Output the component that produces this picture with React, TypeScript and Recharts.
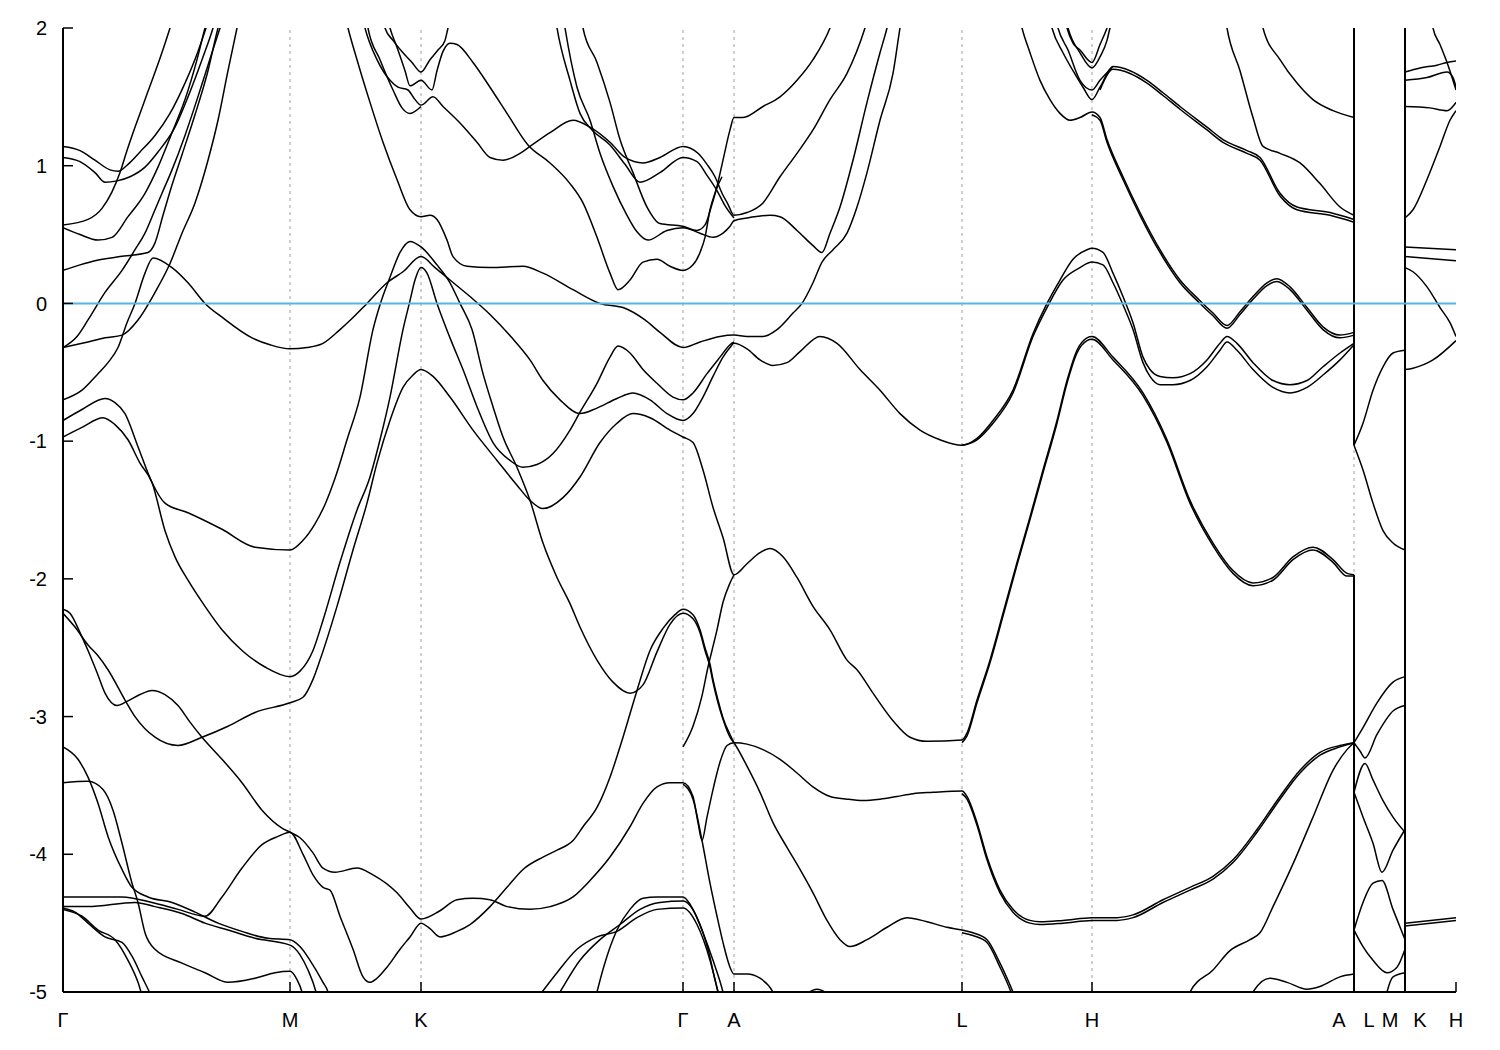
import React from 'react';
import { LineChart, Line, XAxis, YAxis, ReferenceLine } from 'recharts';

type Pt = [number, number];

// high-symmetry points along the k-path
const kTicks = [0, 2.27, 3.58, 6.2, 6.71, 8.99, 10.29, 12.91, 13.42, 13.93];
const kLabels = ['Γ', 'M', 'K', 'Γ', 'A', 'L', 'H', 'A L', 'M K', 'H'];
const energyTicks = [-5, -4, -3, -2, -1, 0, 1, 2];

// Γ–M, bands that leave the window at the top
const bandsGammaMUpper: Pt[][] = [
  [[0, 1.14], [0.17, 1.11], [0.32, 1.04], [0.47, 0.97], [0.55, 0.96], [0.65, 1.01], [0.77, 1.1], [0.92, 1.22], [1.07, 1.38], [1.22, 1.6], [1.35, 1.83], [1.43, 2.0], [1.49, 2.13]],
  [[0, 1.06], [0.17, 1.03], [0.32, 0.95], [0.42, 0.88], [0.54, 0.89], [0.67, 0.92], [0.82, 0.99], [0.95, 1.1], [1.12, 1.28], [1.25, 1.5], [1.39, 1.77], [1.5, 2.0], [1.55, 2.13]],
  [[0, 0.57], [0.25, 0.61], [0.39, 0.69], [0.49, 0.81], [0.57, 0.95], [0.64, 1.11], [0.74, 1.32], [0.85, 1.54], [0.97, 1.78], [1.07, 2.0], [1.12, 2.12]],
  [[0, 0.55], [0.17, 0.5], [0.35, 0.46], [0.49, 0.48], [0.65, 0.63], [0.82, 0.8], [0.95, 0.99], [1.09, 1.24], [1.22, 1.48], [1.34, 1.77], [1.42, 2.0], [1.47, 2.13]],
  [[0, 0.24], [0.17, 0.28], [0.32, 0.31], [0.57, 0.34], [0.85, 0.37], [0.92, 0.44], [1.0, 0.64], [1.09, 0.86], [1.19, 1.08], [1.32, 1.37], [1.45, 1.69], [1.55, 2.0], [1.6, 2.13]],
  [[0, -0.32], [0.14, -0.24], [0.25, -0.12], [0.42, 0.08], [0.59, 0.24], [0.72, 0.39], [0.82, 0.51], [0.92, 0.68], [0.99, 0.8], [1.09, 0.97], [1.22, 1.22], [1.34, 1.48], [1.45, 1.73], [1.57, 2.0], [1.63, 2.13]],
  [[0, -0.32], [0.25, -0.28], [0.42, -0.25], [0.59, -0.23], [0.75, -0.12], [0.92, 0.08], [1.07, 0.29], [1.19, 0.51], [1.32, 0.73], [1.45, 1.04], [1.55, 1.33], [1.65, 1.69], [1.74, 2.0], [1.78, 2.13]],
];

// Γ–M lower bands ending near the bottom edge
const bandsGammaMLower: Pt[][] = [
  [[0, -3.22], [0.15, -3.31], [0.25, -3.44], [0.35, -3.63], [0.45, -3.87], [0.59, -4.11], [0.69, -4.24], [0.85, -4.31], [1.09, -4.35], [1.32, -4.42], [1.55, -4.5], [1.79, -4.56], [2.05, -4.61], [2.27, -4.62], [2.37, -4.67], [2.47, -4.77], [2.6, -4.93], [2.65, -5.0], [2.67, -5.06]],
  [[0, -3.48], [0.25, -3.47], [0.4, -3.53], [0.5, -3.68], [0.59, -3.92], [0.69, -4.21], [0.75, -4.35], [0.82, -4.57], [0.92, -4.69], [1.19, -4.79], [1.42, -4.86], [1.65, -4.93], [1.92, -4.9], [2.12, -4.86], [2.27, -4.85], [2.34, -4.91], [2.39, -5.0], [2.41, -5.06]],
  [[0, -4.38], [0.25, -4.38], [0.72, -4.35], [0.92, -4.38], [1.19, -4.43], [1.42, -4.5], [1.65, -4.55], [1.92, -4.61], [2.27, -4.66], [2.37, -4.73], [2.45, -4.84], [2.53, -5.0], [2.55, -5.06]],
  [[0, -4.39], [0.12, -4.42], [0.25, -4.5], [0.42, -4.6], [0.59, -4.64], [0.69, -4.74], [0.79, -4.89], [0.87, -5.01], [0.9, -5.06]],
  [[0, -4.4], [0.19, -4.45], [0.35, -4.55], [0.52, -4.62], [0.65, -4.77], [0.75, -4.93], [0.79, -5.02], [0.81, -5.06]],
];

// long bands running through several path segments
const bandsLong: Pt[][] = [
  // Γ -0.70 → peak → M → K → Γ → A → L → H → A
  [[0, -0.7], [0.19, -0.63], [0.35, -0.51], [0.45, -0.43], [0.55, -0.32], [0.64, -0.14], [0.72, 0], [0.82, 0.22], [0.9, 0.33], [1.09, 0.26], [1.25, 0.15], [1.42, 0], [1.59, -0.1], [1.89, -0.25], [2.07, -0.3], [2.27, -0.33],
    [2.44, -0.32], [2.6, -0.29], [2.77, -0.19], [2.89, -0.11], [3.04, 0], [3.24, 0.15], [3.4, 0.23], [3.58, 0.34],
    [3.72, 0.26], [3.87, 0.17], [4.07, 0.05], [4.27, -0.08], [4.49, -0.25], [4.67, -0.41], [4.8, -0.56], [4.97, -0.7], [5.17, -0.8], [5.34, -0.76], [5.54, -0.69], [5.7, -0.65], [5.87, -0.7], [6.04, -0.8], [6.2, -0.85],
    [6.3, -0.8], [6.4, -0.68], [6.5, -0.53], [6.6, -0.39], [6.67, -0.32], [6.71, -0.29],
    [6.84, -0.33], [6.97, -0.41], [7.1, -0.45], [7.24, -0.43], [7.37, -0.35], [7.57, -0.24], [7.74, -0.29], [7.97, -0.48], [8.17, -0.63], [8.37, -0.8], [8.57, -0.92], [8.77, -0.99], [8.99, -1.03],
    [9.14, -0.98], [9.3, -0.85], [9.5, -0.63], [9.7, -0.22], [9.84, 0], [9.97, 0.17], [10.1, 0.32], [10.24, 0.39], [10.29, 0.4],
    [10.4, 0.37], [10.5, 0.22], [10.6, 0.05], [10.7, -0.14], [10.8, -0.39], [10.87, -0.48], [10.97, -0.53], [11.1, -0.54], [11.27, -0.51], [11.44, -0.41], [11.57, -0.29], [11.64, -0.24], [11.74, -0.29], [11.9, -0.43], [12.1, -0.56], [12.27, -0.59], [12.44, -0.56], [12.6, -0.46], [12.77, -0.36], [12.91, -0.29]],
  // Γ -0.85 → M -1.79 → K 0.41 → Γ -2.25 → A → L
  [[0, -0.85], [0.19, -0.77], [0.42, -0.69], [0.52, -0.72], [0.62, -0.8], [0.75, -1.04], [0.89, -1.3], [1.02, -1.45], [1.25, -1.52], [1.59, -1.64], [1.92, -1.77], [2.27, -1.79],
    [2.4, -1.72], [2.52, -1.6], [2.62, -1.46], [2.72, -1.27], [2.84, -0.99], [2.97, -0.68], [3.1, -0.19], [3.17, -0.01], [3.27, 0.19], [3.37, 0.37], [3.47, 0.45], [3.58, 0.41],
    [3.74, 0.28], [3.87, 0.15], [3.97, 0], [4.09, -0.19], [4.2, -0.51], [4.3, -0.75], [4.4, -0.97], [4.54, -1.19], [4.67, -1.43], [4.8, -1.74], [4.94, -1.99], [5.07, -2.18], [5.17, -2.35], [5.34, -2.59], [5.5, -2.75], [5.67, -2.83], [5.8, -2.77], [5.94, -2.53], [6.07, -2.33], [6.2, -2.25],
    [6.3, -2.29], [6.37, -2.39], [6.42, -2.52], [6.47, -2.64], [6.5, -2.75], [6.55, -2.9], [6.6, -3.02], [6.67, -3.15], [6.71, -3.19],
    [6.84, -3.36], [6.97, -3.55], [7.1, -3.77], [7.24, -3.95], [7.37, -4.11], [7.5, -4.28], [7.64, -4.48], [7.77, -4.62], [7.87, -4.67], [8.04, -4.62], [8.24, -4.53], [8.44, -4.46], [8.64, -4.49], [8.84, -4.53], [8.99, -4.55],
    [9.1, -4.57], [9.24, -4.62], [9.37, -4.79], [9.5, -5.0], [9.55, -5.09]],
  // Γ -0.97 → M -2.71 → K 0.26 → Γ -0.70 → A
  [[0, -0.97], [0.19, -0.9], [0.4, -0.83], [0.52, -0.88], [0.65, -0.99], [0.77, -1.16], [0.89, -1.3], [1.02, -1.65], [1.12, -1.84], [1.25, -2.01], [1.42, -2.2], [1.59, -2.37], [1.79, -2.52], [2.02, -2.64], [2.27, -2.71],
    [2.37, -2.67], [2.5, -2.52], [2.6, -2.3], [2.77, -1.88], [2.94, -1.5], [3.07, -1.26], [3.17, -0.99], [3.27, -0.68], [3.4, -0.19], [3.47, 0.02], [3.52, 0.17], [3.58, 0.26],
    [3.64, 0.22], [3.74, 0], [3.87, -0.25], [4.0, -0.48], [4.14, -0.75], [4.3, -1.01], [4.47, -1.14], [4.6, -1.19], [4.74, -1.17], [4.9, -1.09], [5.07, -0.92], [5.17, -0.79], [5.34, -0.58], [5.47, -0.39], [5.55, -0.31], [5.67, -0.36], [5.8, -0.48], [5.94, -0.58], [6.1, -0.68], [6.2, -0.7],
    [6.3, -0.65], [6.44, -0.51], [6.57, -0.39], [6.67, -0.3], [6.71, -0.28]],
  // Γ -2.25 → M -2.90 → K -0.48 → Γ -0.97 → A -1.97 → L -3.17 → H -0.26 → A
  [[0, -2.25], [0.12, -2.35], [0.25, -2.48], [0.34, -2.55], [0.45, -2.66], [0.62, -2.88], [0.72, -3.0], [0.92, -3.15], [1.15, -3.21], [1.39, -3.15], [1.65, -3.07], [1.92, -2.97], [2.27, -2.9],
    [2.4, -2.86], [2.5, -2.73], [2.57, -2.59], [2.74, -2.2], [2.9, -1.79], [3.04, -1.45], [3.14, -1.16], [3.27, -0.85], [3.4, -0.61], [3.5, -0.52], [3.58, -0.48],
    [3.7, -0.53], [3.87, -0.68], [4.1, -0.92], [4.34, -1.14], [4.54, -1.32], [4.67, -1.43], [4.8, -1.49], [5.0, -1.41], [5.17, -1.26], [5.37, -1.01], [5.54, -0.87], [5.7, -0.8], [5.87, -0.83], [6.07, -0.92], [6.2, -0.97],
    [6.3, -1.01], [6.4, -1.21], [6.5, -1.48], [6.6, -1.7], [6.71, -1.97],
    [6.84, -1.89], [6.97, -1.81], [7.07, -1.78], [7.2, -1.84], [7.34, -1.99], [7.5, -2.2], [7.67, -2.37], [7.84, -2.59], [7.94, -2.66], [8.1, -2.83], [8.3, -3.03], [8.47, -3.15], [8.64, -3.18], [8.99, -3.17],
    [9.04, -3.12], [9.14, -2.88], [9.27, -2.59], [9.4, -2.25], [9.54, -1.88], [9.67, -1.55], [9.8, -1.21], [9.94, -0.85], [10.04, -0.56], [10.14, -0.34], [10.24, -0.25], [10.29, -0.24],
    [10.5, -0.39], [10.8, -0.65], [11.04, -0.99], [11.27, -1.43], [11.5, -1.74], [11.7, -1.94], [11.9, -2.03], [12.1, -1.99], [12.3, -1.84], [12.5, -1.77], [12.7, -1.86], [12.84, -1.96], [12.91, -1.97]],
  // Γ -2.22 → M -3.84 → K → Γ -3.48 → A -3.19 → L -3.55 → H -4.46 → A
  [[0, -2.22], [0.07, -2.25], [0.17, -2.39], [0.25, -2.52], [0.34, -2.68], [0.42, -2.83], [0.54, -2.92], [0.64, -2.89], [0.77, -2.84], [0.89, -2.81], [1.02, -2.84], [1.15, -2.92], [1.27, -3.04], [1.39, -3.15], [1.59, -3.31], [1.79, -3.48], [1.99, -3.68], [2.19, -3.81], [2.27, -3.84],
    [2.37, -3.88], [2.5, -3.99], [2.6, -4.1], [2.72, -4.13], [2.94, -4.1], [3.1, -4.15], [3.34, -4.28], [3.47, -4.39], [3.58, -4.47],
    [3.77, -4.41], [3.94, -4.33], [4.1, -4.32], [4.27, -4.33], [4.44, -4.38], [4.67, -4.4], [4.87, -4.38], [5.1, -4.31], [5.27, -4.19], [5.47, -4.02], [5.67, -3.8], [5.8, -3.63], [5.94, -3.51], [6.07, -3.48], [6.2, -3.48],
    [6.3, -3.58], [6.35, -3.77], [6.39, -3.9], [6.44, -3.73], [6.5, -3.53], [6.57, -3.33], [6.64, -3.21], [6.71, -3.19],
    [6.84, -3.2], [7.0, -3.24], [7.17, -3.31], [7.34, -3.41], [7.5, -3.51], [7.67, -3.58], [7.84, -3.6], [8.0, -3.61], [8.17, -3.6], [8.34, -3.58], [8.5, -3.56], [8.7, -3.55], [8.99, -3.54],
    [9.04, -3.58], [9.14, -3.77], [9.24, -4.02], [9.37, -4.26], [9.5, -4.4], [9.67, -4.48], [9.77, -4.49], [10.0, -4.48], [10.29, -4.46],
    [10.54, -4.46], [10.7, -4.44], [11.0, -4.33], [11.27, -4.24], [11.5, -4.16], [11.7, -4.04], [11.94, -3.82], [12.17, -3.58], [12.37, -3.39], [12.57, -3.26], [12.77, -3.21], [12.91, -3.19]],
  // Γ -4.31 → M -3.84 → K → Γ -2.22 → A
  [[0, -4.31], [0.25, -4.31], [0.59, -4.31], [0.89, -4.35], [1.15, -4.4], [1.42, -4.45], [1.59, -4.31], [1.79, -4.1], [1.99, -3.93], [2.15, -3.87], [2.27, -3.84],
    [2.4, -4.0], [2.5, -4.15], [2.6, -4.24], [2.67, -4.26], [2.77, -4.45], [2.9, -4.69], [3.0, -4.89], [3.07, -4.93], [3.14, -4.9], [3.24, -4.82], [3.37, -4.69], [3.47, -4.6], [3.58, -4.5],
    [3.67, -4.54], [3.77, -4.6], [3.94, -4.56], [4.07, -4.51], [4.27, -4.38], [4.44, -4.24], [4.6, -4.11], [4.8, -4.02], [4.94, -3.97], [5.1, -3.9], [5.2, -3.8], [5.34, -3.66], [5.47, -3.44], [5.6, -3.15], [5.74, -2.81], [5.87, -2.52], [6.0, -2.36], [6.12, -2.26], [6.2, -2.22],
    [6.3, -2.26], [6.37, -2.37], [6.42, -2.5], [6.47, -2.62], [6.5, -2.73], [6.55, -2.88], [6.6, -3.01], [6.67, -3.13], [6.71, -3.19]],
];

// bands entering from the top between M and Γ
const bandsMKGammaUpper: Pt[][] = [
  [[2.82, 2.09], [2.85, 2.0], [2.94, 1.77], [3.07, 1.46], [3.2, 1.17], [3.34, 0.9], [3.47, 0.68], [3.58, 0.63], [3.67, 0.64], [3.74, 0.61], [3.84, 0.46], [3.9, 0.34], [4.04, 0.27], [4.27, 0.26], [4.6, 0.27], [4.8, 0.22], [5.1, 0.1], [5.37, 0], [5.6, -0.03], [5.82, -0.12], [5.97, -0.21], [6.2, -0.32],
    [6.37, -0.28], [6.57, -0.24], [6.71, -0.23], [6.84, -0.24], [7.0, -0.24], [7.14, -0.19], [7.3, -0.07], [7.39, 0], [7.5, 0.15], [7.59, 0.3], [7.7, 0.39], [7.84, 0.51], [7.94, 0.7], [8.04, 0.95], [8.17, 1.33], [8.3, 1.67], [8.37, 2.0], [8.4, 2.13]],
  [[3.2, 2.09], [3.22, 2.0], [3.3, 1.91], [3.4, 1.82], [3.49, 1.75], [3.58, 1.68], [3.67, 1.77], [3.75, 1.84], [3.82, 1.91], [3.85, 2.0], [3.88, 2.09]],
  [[3.24, 2.09], [3.27, 2.0], [3.34, 1.86], [3.42, 1.69], [3.47, 1.58], [3.58, 1.62], [3.69, 1.55], [3.74, 1.69], [3.8, 1.83], [3.87, 1.89], [3.94, 1.88], [4.1, 1.75], [4.27, 1.57], [4.44, 1.38], [4.65, 1.15], [4.87, 1.02], [5.07, 0.87], [5.2, 0.73], [5.34, 0.48], [5.47, 0.22], [5.55, 0.1], [5.67, 0.17], [5.8, 0.3], [5.94, 0.32], [6.07, 0.27], [6.2, 0.24],
    [6.3, 0.28], [6.37, 0.37], [6.42, 0.48], [6.47, 0.68], [6.54, 0.85], [6.6, 1.04], [6.67, 1.26], [6.71, 1.35], [6.8, 1.35], [7.0, 1.43], [7.17, 1.5], [7.34, 1.62], [7.5, 1.77], [7.67, 2.0], [7.73, 2.12]],
  [[2.99, 2.09], [3.02, 2.0], [3.14, 1.77], [3.27, 1.62], [3.35, 1.57], [3.45, 1.55], [3.51, 1.49], [3.58, 1.44], [3.7, 1.5], [3.8, 1.43], [3.97, 1.31], [4.14, 1.17], [4.27, 1.06], [4.4, 1.04], [4.57, 1.09], [4.67, 1.14], [4.87, 1.24], [5.1, 1.33], [5.27, 1.28], [5.47, 1.17], [5.62, 1.06], [5.8, 1.02], [5.97, 1.06], [6.2, 1.14],
    [6.35, 1.09], [6.44, 1.01], [6.52, 0.92], [6.59, 0.8], [6.65, 0.72], [6.71, 0.64], [6.84, 0.66], [7.0, 0.73], [7.17, 0.92], [7.34, 1.09], [7.5, 1.26], [7.67, 1.48], [7.84, 1.67], [8.02, 2.0], [8.07, 2.12]],
  [[3.03, 2.09], [3.05, 2.0], [3.17, 1.77], [3.3, 1.55], [3.39, 1.42], [3.47, 1.38], [3.58, 1.43]],
  [[4.92, 2.09], [4.94, 2.0], [5.07, 1.62], [5.17, 1.38], [5.29, 1.26], [5.47, 1.15], [5.62, 1.01], [5.77, 0.88], [5.97, 0.95], [6.2, 1.06], [6.34, 1.03], [6.44, 0.93], [6.54, 0.82], [6.62, 0.71], [6.71, 0.62]],
  [[5.0, 2.09], [5.02, 2.0], [5.14, 1.57], [5.27, 1.33], [5.37, 1.09], [5.5, 0.85], [5.64, 0.64], [5.74, 0.52], [5.85, 0.46], [6.04, 0.53], [6.2, 0.55], [6.37, 0.51], [6.5, 0.48], [6.6, 0.51], [6.67, 0.56], [6.71, 0.6],
    [6.84, 0.62], [7.07, 0.64], [7.17, 0.63], [7.34, 0.53], [7.5, 0.42], [7.59, 0.37], [7.67, 0.51], [7.77, 0.7], [7.9, 1.04], [8.04, 1.46], [8.17, 1.82], [8.24, 2.0], [8.27, 2.09]],
  [[5.18, 2.09], [5.2, 2.0], [5.34, 1.75], [5.47, 1.46], [5.57, 1.19], [5.7, 0.95], [5.84, 0.7], [5.97, 0.58], [6.2, 0.56], [6.34, 0.53], [6.42, 0.57], [6.49, 0.72], [6.54, 0.84], [6.59, 0.92]],
];

// lower bands around Γ and A
const bandsGammaALower: Pt[][] = [
  [[6.2, -3.22], [6.3, -3.07], [6.39, -2.85], [6.45, -2.64], [6.49, -2.52], [6.54, -2.37], [6.6, -2.17], [6.67, -2.03], [6.71, -1.97]],
  [[6.2, -3.49], [6.3, -3.6], [6.39, -3.9], [6.47, -4.21], [6.54, -4.45], [6.6, -4.64], [6.67, -4.82], [6.71, -4.87], [6.84, -4.87], [6.97, -4.9], [7.1, -5.0], [7.14, -5.06]],
  [[4.77, -5.02], [4.94, -4.86], [5.14, -4.69], [5.34, -4.6], [5.54, -4.56], [5.74, -4.46], [5.94, -4.4], [6.2, -4.39], [6.34, -4.51], [6.47, -4.77], [6.55, -5.0], [6.57, -5.06]],
  [[4.92, -5.06], [4.97, -5.0], [5.17, -4.77], [5.37, -4.62], [5.57, -4.51], [5.77, -4.4], [5.97, -4.35], [6.2, -4.34], [6.34, -4.46], [6.45, -4.69], [6.52, -4.91], [6.55, -5.0]],
  [[5.32, -5.06], [5.34, -5.0], [5.44, -4.74], [5.54, -4.55], [5.67, -4.4], [5.8, -4.32], [5.94, -4.31], [6.2, -4.31], [6.3, -4.4], [6.4, -4.57], [6.5, -4.77], [6.6, -5.0], [6.62, -5.06]],
  [[7.37, -5.06], [7.54, -4.98], [7.72, -5.06]],
];

// L–H–A bands
const bandsLHA: Pt[][] = [
  [[9.56, 2.09], [9.59, 2.0], [9.67, 1.82], [9.77, 1.62], [9.87, 1.48], [9.97, 1.38], [10.07, 1.33], [10.17, 1.35], [10.29, 1.39], [10.37, 1.35], [10.44, 1.19], [10.6, 0.92], [10.77, 0.66], [10.97, 0.39], [11.17, 0.17], [11.37, 0.02], [11.5, -0.07], [11.64, -0.16], [11.77, -0.06], [11.9, 0.05], [12.04, 0.15], [12.14, 0.18], [12.27, 0.12], [12.44, -0.03], [12.6, -0.17], [12.77, -0.23], [12.91, -0.21]],
  [[10.29, 1.37], [10.37, 1.33], [10.44, 1.17], [10.6, 0.9], [10.77, 0.64], [10.97, 0.37], [11.17, 0.15], [11.37, 0.0], [11.5, -0.09], [11.64, -0.18], [11.77, -0.08], [11.9, 0.03], [12.04, 0.13], [12.14, 0.16], [12.27, 0.1], [12.44, -0.05], [12.6, -0.19], [12.77, -0.25], [12.91, -0.23]],
  [[9.86, 2.09], [9.89, 2.0], [10.0, 1.82], [10.1, 1.69], [10.2, 1.57], [10.29, 1.48], [10.37, 1.57], [10.5, 1.72], [10.67, 1.69], [10.84, 1.62], [11.0, 1.53], [11.17, 1.43], [11.44, 1.28], [11.6, 1.19], [11.84, 1.11], [11.97, 1.06], [12.17, 0.8], [12.34, 0.7], [12.67, 0.66], [12.91, 0.61]],
  [[10.37, 1.55], [10.5, 1.7], [10.67, 1.67], [10.84, 1.6], [11.0, 1.51], [11.17, 1.41], [11.44, 1.26], [11.6, 1.17], [11.84, 1.09], [11.97, 1.04], [12.17, 0.78], [12.34, 0.68], [12.67, 0.64], [12.91, 0.59]],
  [[9.92, 2.09], [9.95, 2.0], [10.05, 1.84], [10.17, 1.62], [10.29, 1.55], [10.37, 1.62], [10.5, 1.72]],
  [[10.01, 2.09], [10.04, 2.0], [10.1, 1.89], [10.17, 1.84], [10.29, 1.75], [10.37, 1.88], [10.44, 2.0], [10.48, 2.09]],
  [[10.02, 2.09], [10.05, 2.0], [10.17, 1.82], [10.29, 1.71], [10.37, 1.79], [10.44, 1.91], [10.47, 2.0], [10.51, 2.09]],
  [[11.62, 2.09], [11.64, 2.0], [11.77, 1.69], [11.9, 1.35], [12.0, 1.14], [12.17, 1.09], [12.37, 1.02], [12.57, 0.87], [12.77, 0.7], [12.91, 0.64]],
  [[11.97, 2.09], [12.0, 2.0], [12.17, 1.77], [12.34, 1.6], [12.5, 1.48], [12.7, 1.4], [12.91, 1.35]],
  [[8.99, -1.03], [9.14, -0.99], [9.3, -0.87], [9.5, -0.65], [9.7, -0.24], [9.84, -0.03], [10.0, 0.17], [10.17, 0.26], [10.29, 0.3], [10.4, 0.28], [10.5, 0.15], [10.6, -0.01], [10.7, -0.19], [10.8, -0.43], [10.87, -0.53], [10.97, -0.59], [11.1, -0.59], [11.27, -0.56], [11.44, -0.46], [11.57, -0.34], [11.64, -0.28], [11.74, -0.34], [11.9, -0.48], [12.1, -0.61], [12.27, -0.65], [12.44, -0.61], [12.6, -0.52], [12.77, -0.41], [12.91, -0.3]],
  [[8.99, -3.19], [9.04, -3.14], [9.14, -2.9], [9.27, -2.61], [9.4, -2.27], [9.54, -1.9], [9.67, -1.57], [9.8, -1.23], [9.94, -0.87], [10.04, -0.58], [10.14, -0.36], [10.24, -0.27], [10.29, -0.26], [10.5, -0.41], [10.8, -0.67], [11.04, -1.01], [11.27, -1.45], [11.5, -1.76], [11.7, -1.96], [11.9, -2.05], [12.1, -2.01], [12.3, -1.86], [12.5, -1.79], [12.7, -1.88], [12.84, -1.98], [12.91, -1.98]],
  [[8.99, -3.56], [9.04, -3.6], [9.14, -3.79], [9.24, -4.04], [9.37, -4.28], [9.5, -4.42], [9.67, -4.5], [9.77, -4.51], [10.0, -4.5], [10.29, -4.48], [10.54, -4.48], [10.7, -4.46], [11.0, -4.35], [11.27, -4.26], [11.5, -4.18], [11.7, -4.06], [11.94, -3.84], [12.17, -3.6], [12.37, -3.41], [12.57, -3.28], [12.77, -3.22], [12.91, -3.19]],
  [[8.99, -4.57], [9.1, -4.59], [9.24, -4.64], [9.37, -4.82], [9.48, -5.0], [9.52, -5.08]],
  [[11.24, -5.06], [11.27, -5.0], [11.5, -4.84], [11.67, -4.7], [11.87, -4.62], [11.97, -4.57], [12.1, -4.38], [12.3, -4.07], [12.5, -3.73], [12.7, -3.39], [12.84, -3.24], [12.91, -3.19]],
  [[11.87, -5.06], [11.9, -5.0], [12.07, -4.9], [12.24, -4.93], [12.44, -4.98], [12.57, -4.96], [12.77, -4.89], [12.91, -4.87]],
];

// L–M segment
const bandsLM: Pt[][] = [
  [[12.91, -1.03], [13.0, -0.87], [13.1, -0.63], [13.2, -0.46], [13.3, -0.36], [13.42, -0.34]],
  [[12.91, -1.03], [13.0, -1.21], [13.1, -1.45], [13.2, -1.65], [13.3, -1.74], [13.42, -1.79]],
  [[12.91, -3.19], [13.0, -3.08], [13.14, -2.9], [13.3, -2.75], [13.42, -2.71]],
  [[12.91, -3.19], [12.97, -3.25], [13.02, -3.3], [13.14, -3.13], [13.3, -2.96], [13.42, -2.92]],
  [[12.91, -3.55], [13.02, -3.34], [13.1, -3.46], [13.2, -3.61], [13.3, -3.73], [13.42, -3.84]],
  [[12.91, -3.55], [13.0, -3.73], [13.1, -3.92], [13.19, -4.13], [13.3, -3.97], [13.42, -3.82]],
  [[12.91, -4.55], [13.0, -4.35], [13.1, -4.21], [13.19, -4.19], [13.3, -4.4], [13.42, -4.62]],
  [[12.91, -4.55], [13.0, -4.67], [13.1, -4.77], [13.24, -4.86], [13.34, -4.82], [13.42, -4.69]],
  [[13.22, -5.06], [13.24, -5.0], [13.3, -4.89], [13.42, -4.86]],
];

// K–H segment
const bandsKH: Pt[][] = [
  [[13.42, 1.68], [13.57, 1.71], [13.74, 1.73], [13.84, 1.75], [13.93, 1.76]],
  [[13.42, 1.62], [13.64, 1.64], [13.84, 1.68], [13.9, 1.64], [13.93, 1.57]],
  [[13.42, 1.43], [13.67, 1.42], [13.84, 1.4], [13.93, 1.46]],
  [[13.68, 2.09], [13.7, 2.0], [13.77, 1.88], [13.85, 1.73], [13.93, 1.55]],
  [[13.42, 0.62], [13.5, 0.68], [13.64, 0.9], [13.77, 1.14], [13.87, 1.33], [13.93, 1.4]],
  [[13.42, 0.41], [13.93, 0.39]],
  [[13.42, 0.34], [13.93, 0.31]],
  [[13.42, 0.26], [13.5, 0.23], [13.64, 0.12], [13.77, -0.03], [13.87, -0.14], [13.93, -0.24]],
  [[13.42, -0.48], [13.5, -0.47], [13.7, -0.41], [13.93, -0.27]],
  [[13.42, -4.5], [13.93, -4.46]],
  [[13.42, -4.52], [13.93, -4.48]],
];

// discontinuities of the path (A|L and M|K): k, from, to
const jumps: [number, number, number][] = [
  [12.91, 2, -1.03],
  [12.91, -1.97, -5],
  [13.42, 2, -5],
];

const allBands: Pt[][] = [
  ...bandsGammaMUpper,
  ...bandsGammaMLower,
  ...bandsLong,
  ...bandsMKGammaUpper,
  ...bandsGammaALower,
  ...bandsLHA,
  ...bandsLM,
  ...bandsKH,
];

const PLOT = { left: 55, top: 20, right: 1448, bottom: 984 };
const FONT = '"Liberation Sans", Arial, Helvetica, sans-serif';

const LeftTick = (props: any) => {
  const { y, payload } = props;
  return (
    <g>
      <line x1={PLOT.left} x2={PLOT.left + 10} y1={y} y2={y} stroke="#000" strokeWidth={1.5} />
      <text x={PLOT.left - 16} y={y} dy="0.36em" textAnchor="end" fontSize={20} fontFamily={FONT} fill="#000">
        {payload.value}
      </text>
    </g>
  );
};

const RightTick = (props: any) => {
  const { y } = props;
  return <line x1={PLOT.right - 10} x2={PLOT.right} y1={y} y2={y} stroke="#000" strokeWidth={1.5} />;
};

const TopTick = (props: any) => {
  const { x } = props;
  return <line x1={x} x2={x} y1={PLOT.top} y2={PLOT.top + 10} stroke="#000" strokeWidth={1.5} />;
};

const BottomTick = (props: any) => {
  const { x, payload } = props;
  const label = kLabels[kTicks.indexOf(payload.value)] ?? '';
  const parts = label.split(' ');
  const ty = PLOT.bottom + 35;
  return (
    <g>
      <line x1={x} x2={x} y1={PLOT.bottom - 10} y2={PLOT.bottom} stroke="#000" strokeWidth={1.5} />
      {parts.length === 2 ? (
        <>
          <text x={x - 15} y={ty} textAnchor="middle" fontSize={20} fontFamily={FONT} fill="#000">{parts[0]}</text>
          <text x={x + 15} y={ty} textAnchor="middle" fontSize={20} fontFamily={FONT} fill="#000">{parts[1]}</text>
        </>
      ) : (
        <text x={x} y={ty} textAnchor="middle" fontSize={20} fontFamily={FONT} fill="#000">{label}</text>
      )}
    </g>
  );
};

const App: React.FC = () => {
  return (
    <div style={{ width: 1480, height: 1040 }}>
      <LineChart width={1480} height={1040} margin={{ top: 20, right: 32, left: 10, bottom: 26 }}>
        <XAxis
          dataKey="k"
          type="number"
          domain={[0, 13.93]}
          ticks={kTicks}
          interval={0}
          allowDataOverflow
          height={30}
          axisLine={{ stroke: '#000', strokeWidth: 2 }}
          tickLine={false}
          tick={BottomTick}
        />
        <XAxis
          xAxisId="top"
          orientation="top"
          dataKey="k"
          type="number"
          domain={[0, 13.93]}
          ticks={kTicks}
          interval={0}
          allowDataOverflow
          height={0}
          axisLine={{ stroke: '#000', strokeWidth: 2 }}
          tickLine={false}
          tick={TopTick}
        />
        <YAxis
          type="number"
          domain={[-5, 2]}
          ticks={energyTicks}
          interval={0}
          allowDataOverflow
          width={45}
          axisLine={{ stroke: '#000', strokeWidth: 2 }}
          tickLine={false}
          tick={LeftTick}
        />
        <YAxis
          yAxisId="right"
          orientation="right"
          type="number"
          domain={[-5, 2]}
          ticks={energyTicks}
          interval={0}
          allowDataOverflow
          width={0}
          axisLine={{ stroke: '#000', strokeWidth: 2 }}
          tickLine={false}
          tick={RightTick}
        />
        {kTicks.slice(1, -1).map((k, i) => (
          <ReferenceLine key={`g${i}`} x={k} stroke="#a0a0a0" strokeWidth={1} strokeDasharray="3 4" />
        ))}
        {allBands.map((band, i) => (
          <Line
            key={`b${i}`}
            data={band.map(([k, e]) => ({ k, e }))}
            dataKey="e"
            type="monotone"
            stroke="#000"
            strokeWidth={1.5}
            dot={false}
            activeDot={false}
            isAnimationActive={false}
          />
        ))}
        {jumps.map(([k, from, to], i) => (
          <Line
            key={`j${i}`}
            data={[{ k, e: from }, { k, e: to }]}
            dataKey="e"
            type="linear"
            stroke="#000"
            strokeWidth={2}
            dot={false}
            activeDot={false}
            isAnimationActive={false}
          />
        ))}
        <ReferenceLine y={0} stroke="#56b4e9" strokeWidth={2} />
      </LineChart>
    </div>
  );
};

export default App;
